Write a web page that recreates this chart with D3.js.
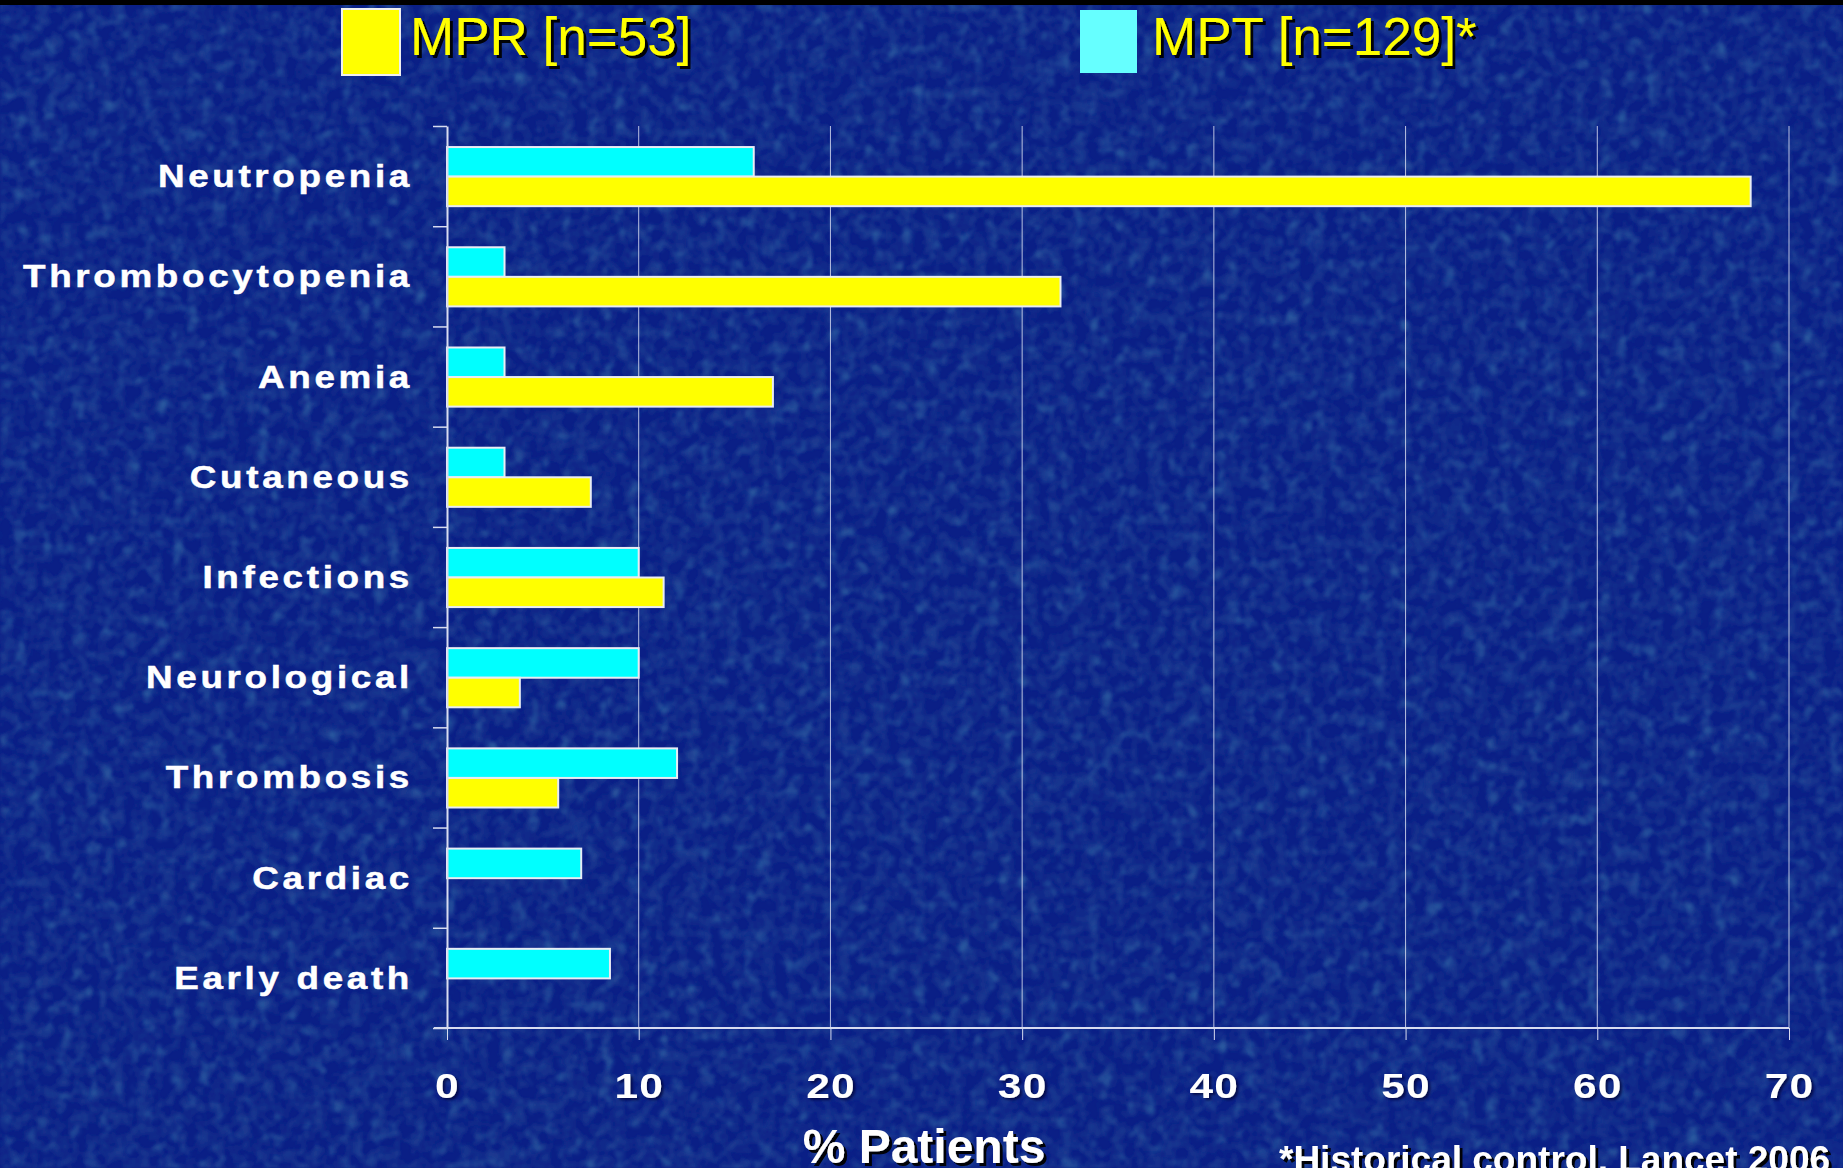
<!DOCTYPE html>
<html>
<head>
<meta charset="utf-8">
<script src="https://cdn.jsdelivr.net/npm/d3@7"></script>
<style>
  html, body { margin: 0; padding: 0; background: #0a1f86; overflow: hidden; }
  svg { display: block; }
</style>
</head>
<body>
<svg id="chart" width="1843" height="1168"></svg>
<script>
// Grade 3-4 adverse events, % of patients
const categories = ["Neutropenia", "Thrombocytopenia", "Anemia", "Cutaneous", "Infections",
                    "Neurological", "Thrombosis", "Cardiac", "Early death"];
const mptValues = [16, 3, 3, 3, 10, 10, 12, 7, 8.5];
const mprValues = [68, 32, 17, 7.5, 11.3, 3.8, 5.8, null, null];
const xTicks = [0, 10, 20, 30, 40, 50, 60, 70];
const seriesNames = ["MPR [n=53]", "MPT [n=129]*"];
const xTitle = "% Patients";
const footnote = "*Historical control, Lancet 2006";

const W = 1843, H = 1168;
const svg = d3.select("#chart");
const defs = svg.append("defs");

// mottled backdrop texture: soft dark navy patches plus faint teal haze
function noiseFilter(id, freq, octaves, seed, rgb, gain, bias, blur) {
  const f = defs.append("filter").attr("id", id)
    .attr("x", 0).attr("y", 0).attr("width", "100%").attr("height", "100%");
  f.append("feTurbulence").attr("type", "fractalNoise")
    .attr("baseFrequency", freq).attr("numOctaves", octaves).attr("seed", seed);
  f.append("feColorMatrix").attr("type", "matrix")
    .attr("values", `0 0 0 0 ${rgb[0]}  0 0 0 0 ${rgb[1]}  0 0 0 0 ${rgb[2]}  ${gain} 0 0 0 ${bias}`);
  if (blur) f.append("feGaussianBlur").attr("stdDeviation", blur);
}
noiseFilter("dark", "0.08", 2, 4, [0.01, 0.04, 0.28], 2.6, -1.0, 1.2);
noiseFilter("teal", "0.07", 2, 9, [0.06, 0.28, 0.48], 1.3, -0.72, 1.5);

const shadow = defs.append("filter").attr("id", "shadow")
  .attr("x", "-10%").attr("y", "-20%").attr("width", "130%").attr("height", "150%");
shadow.append("feDropShadow").attr("dx", 3).attr("dy", 3)
  .attr("stdDeviation", 0.6).attr("flood-color", "#000").attr("flood-opacity", 0.95);

const softShadow = defs.append("filter").attr("id", "softShadow")
  .attr("x", "-10%").attr("y", "-20%").attr("width", "130%").attr("height", "150%");
softShadow.append("feDropShadow").attr("dx", 2).attr("dy", 2)
  .attr("stdDeviation", 0.8).attr("flood-color", "#000030").attr("flood-opacity", 0.7);

svg.append("rect").attr("width", W).attr("height", H).attr("fill", "#0a1f86");
svg.append("rect").attr("width", W).attr("height", H).attr("filter", "url(#dark)");
svg.append("rect").attr("width", W).attr("height", H).attr("filter", "url(#teal)");
svg.append("rect").attr("width", W).attr("height", 5).attr("fill", "#000");

// scales
const x = d3.scaleLinear().domain([0, 70]).range([447, 1789]);
const y = d3.scaleBand().domain(categories).range([126, 1028]);
const slot = d3.scaleBand().domain(["MPT", "MPR"])
  .range([y.bandwidth() * 0.21, y.bandwidth() * 0.80]);
const yEdge = d3.scaleLinear().domain([0, categories.length]).range([126, 1028]);

const lineColor = "#d8dcf0";
const font = "Liberation Sans, Arial, sans-serif";

// vertical gridlines
svg.append("g").selectAll("line").data(xTicks.slice(1)).join("line")
  .attr("x1", d => x(d)).attr("x2", d => x(d))
  .attr("y1", 126).attr("y2", 1028)
  .attr("stroke", lineColor).attr("stroke-width", 1).attr("opacity", 0.85);

// bars
const rows = svg.append("g").selectAll("g").data(categories).join("g")
  .attr("transform", d => `translate(0,${y(d)})`);

rows.append("rect")
  .attr("x", x(0)).attr("y", slot("MPT"))
  .attr("width", (d, i) => x(mptValues[i]) - x(0))
  .attr("height", slot.bandwidth())
  .attr("fill", "#00ffff").attr("stroke", "#e8ecf4").attr("stroke-width", 2);

rows.filter((d, i) => mprValues[i] != null).append("rect")
  .attr("x", x(0)).attr("y", slot("MPR"))
  .attr("width", d => x(mprValues[categories.indexOf(d)]) - x(0))
  .attr("height", slot.bandwidth())
  .attr("fill", "#ffff00").attr("stroke", "#e8ecf4").attr("stroke-width", 2);

// x axis
const xAxis = svg.append("g").attr("transform", "translate(0,1028)")
  .call(d3.axisBottom(x).tickValues(xTicks).tickSize(12).tickPadding(32).tickSizeOuter(0));
xAxis.select(".domain").attr("stroke", lineColor).attr("stroke-width", 2)
  .attr("d", `M434,0H${x(70)}`);
xAxis.selectAll(".tick line").attr("stroke", lineColor).attr("stroke-width", 1);
xAxis.selectAll(".tick text")
  .attr("fill", "#fff").attr("font-family", font)
  .attr("font-weight", "bold").attr("font-size", 36)
  .attr("letter-spacing", 1)
  .attr("transform", "scale(1.18,1)")
  .attr("filter", "url(#softShadow)");

// y axis: line with ticks at category boundaries
const yAxis = svg.append("g").attr("transform", "translate(447,0)")
  .call(d3.axisLeft(yEdge).tickValues(d3.range(0, categories.length + 1))
    .tickSize(14).tickFormat("").tickSizeOuter(0));
yAxis.select(".domain").attr("stroke", lineColor).attr("stroke-width", 2);
yAxis.selectAll(".tick line").attr("stroke", lineColor).attr("stroke-width", 1.5);

// category labels
svg.append("g").selectAll("text").data(categories).join("text")
  .attr("transform", d => `translate(413,${y(d) + y.bandwidth() / 2 + 11}) scale(1.15,1)`)
  .attr("text-anchor", "end")
  .attr("fill", "#fff")
  .attr("stroke", "#fff").attr("stroke-width", 0.5)
  .attr("font-family", font)
  .attr("font-weight", "bold").attr("font-size", 32)
  .attr("letter-spacing", 3.2)
  .text(d => d);

// legend
const legend = [
  { name: seriesNames[0], color: "#ffff00", box: [342, 9, 58, 66], stroke: "#f0f0f0", tx: 410 },
  { name: seriesNames[1], color: "#66ffff", box: [1080, 10, 57, 63], stroke: "none", tx: 1152 }
];
const lg = svg.append("g").selectAll("g").data(legend).join("g");
lg.append("rect")
  .attr("x", d => d.box[0]).attr("y", d => d.box[1])
  .attr("width", d => d.box[2]).attr("height", d => d.box[3])
  .attr("fill", d => d.color).attr("stroke", d => d.stroke).attr("stroke-width", 2);
lg.append("text")
  .attr("x", d => d.tx).attr("y", 55)
  .attr("fill", "#ffff00")
  .attr("font-family", font)
  .attr("font-size", 53)
  .attr("filter", "url(#shadow)")
  .text(d => d.name);

// axis title and footnote
svg.append("text")
  .attr("x", 924).attr("y", 1163)
  .attr("text-anchor", "middle")
  .attr("fill", "#fff")
  .attr("font-family", font)
  .attr("font-weight", "bold").attr("font-size", 48)
  .attr("filter", "url(#shadow)")
  .text(xTitle);

svg.append("text")
  .attr("x", 1279).attr("y", 1172)
  .attr("fill", "#fff")
  .attr("font-family", font)
  .attr("font-weight", "bold").attr("font-size", 37)
  .attr("filter", "url(#shadow)")
  .text(footnote);
</script>
</body>
</html>
